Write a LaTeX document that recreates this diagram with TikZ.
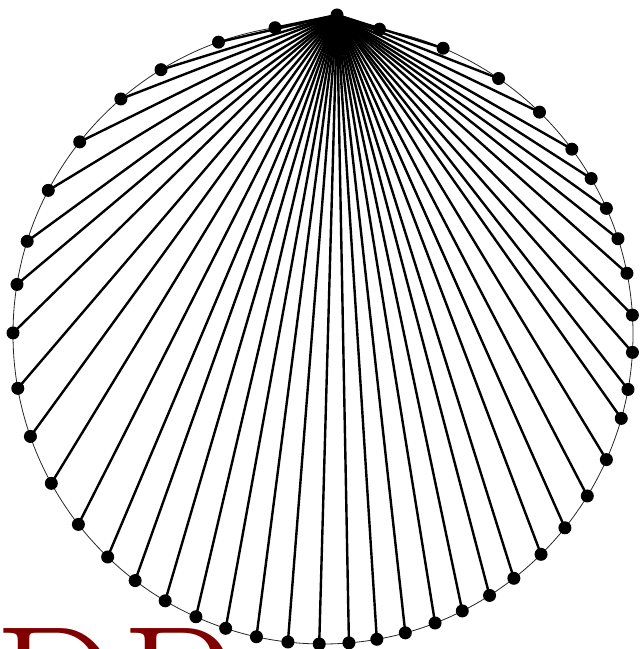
\documentclass[tikz,border=0pt]{standalone}
\usepackage{xcolor}
\usepackage{tikz}
\usetikzlibrary{backgrounds}
\definecolor{darkmaroon}{RGB}{128,0,0}

\begin{document}
\begin{tikzpicture}[x=1pt,y=1pt,
  vert/.style={circle,fill=black,inner sep=0pt,minimum size=13pt},
  spoke/.style={line width=2.4pt},
  rim/.style={line width=0.8pt,black!85}]
\useasboundingbox (0,0) rectangle (642,649);
\node[anchor=north west,inner sep=0pt,text=darkmaroon,font=\fontsize{180}{180}\selectfont] (title) at (-6,21) {DP};
\node[vert] (apex) at (337,634) {};
\begin{scope}[shift={(323,315)}]
\foreach \a [count=\i] in {79.5,67.2,55.5,45.7,36.6,30.1,23.9,17.9,11.3,3.5,
  -3.4,-10.3,-15.8,-23.9,-31.5,-38.7,-45.3,-52.0,-57.5,-63.3,-68.8,-74.6,
  -80.0,-85.2,-90.7,-96.5,-102.4,-108.3,-114.2,-120.6,-127.3,-134.0,-142.1,
  -151.2,-160.7,-169.9,179.8,170.8,162.6,152.4,141.7,130.7,121.5,109.7,98.9}
  \node[vert] (p\i) at (\a:310) {};
\end{scope}
\begin{scope}[on background layer]
\draw[rim] (323,315) circle [radius=310];
\foreach \i in {1,...,45}
  \draw[spoke] (apex.center) -- (p\i.center);
\end{scope}
\end{tikzpicture}
\end{document}
